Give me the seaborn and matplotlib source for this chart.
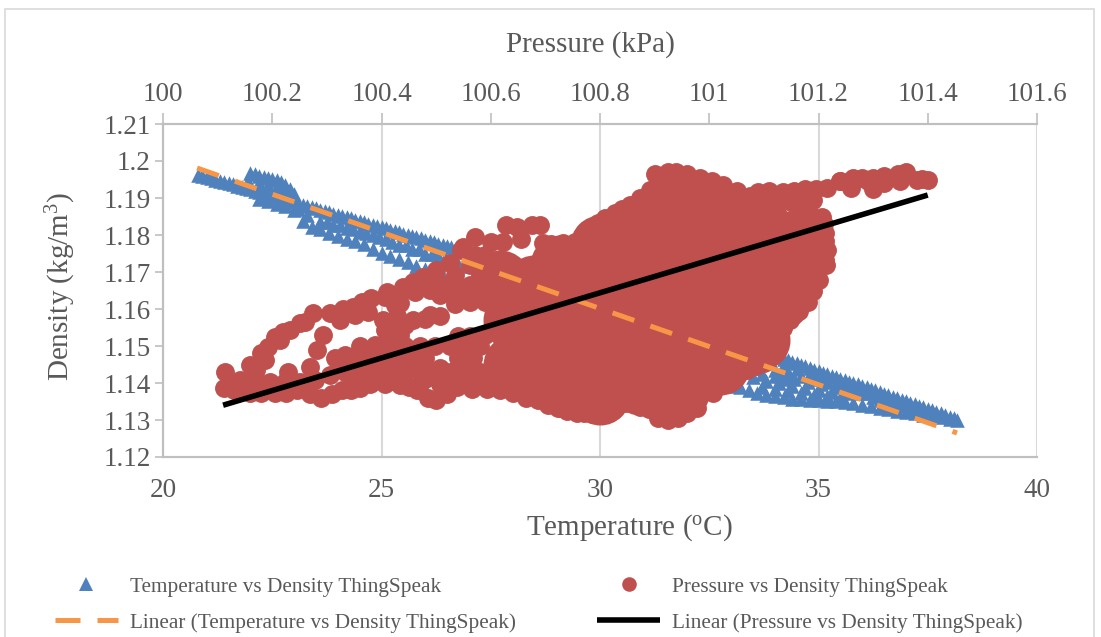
import matplotlib
matplotlib.use("Agg")
import matplotlib.pyplot as plt
from matplotlib.lines import Line2D
from matplotlib.patches import Rectangle
import seaborn as sns

# ---- data ----
temp_row_upper = [20.8,21.0,21.2,21.4,21.6,21.8,22.0,22.2,22.4,22.6,22.8,23.0,23.2,23.4,23.6,23.8,24.0,24.2,24.4,24.6,24.8,25.0,25.2,25.4,25.6,25.8,26.0,26.2,26.4,26.6,26.8,27.0,
                  20.9,21.1,21.3,21.5,21.7,21.9,22.1,22.3,22.5,22.7,22.9,23.1,23.3,23.5,23.7,23.9,24.1,24.3,24.5,24.7,24.9,25.1,25.3,25.5,25.7,25.9,26.1,26.3,26.5,26.7,26.9]
dens_row_upper = [1.1963,1.1957,1.1950,1.1943,1.1937,1.1930,1.1923,1.1916,1.1909,1.1902,1.1896,1.1889,1.1882,1.1875,1.1868,1.1862,1.1855,1.1848,1.1841,1.1835,1.1828,1.1821,1.1814,1.1807,1.1801,1.1794,1.1787,1.1780,1.1773,1.1767,1.1760,1.1753,
                  1.1960,1.1953,1.1947,1.1940,1.1933,1.1926,1.1920,1.1913,1.1906,1.1899,1.1892,1.1886,1.1879,1.1872,1.1865,1.1858,1.1852,1.1845,1.1838,1.1831,1.1824,1.1818,1.1811,1.1804,1.1797,1.1791,1.1784,1.1777,1.1770,1.1763,1.1756]
temp_row_lower = [22.2,22.4,22.6,22.8,23.0,23.2,23.4,23.6,23.8,24.0,24.2,24.4,24.6,24.8,25.0,25.2,25.4,25.6,25.8,26.0,26.2,26.4,26.6,26.8,27.0]
dens_row_lower = [1.1897,1.1891,1.1885,1.1878,1.1867,1.1838,1.1822,1.1815,1.1805,1.1798,1.1790,1.1783,1.1775,1.1763,1.1752,1.1744,1.1735,1.1726,1.1716,1.1707,1.1698,1.1690,1.1680,1.1673,1.1665]
temp_row_mid = [23.6,23.9,24.2,24.5,24.8,25.1,25.4,25.7,26.0,26.3,26.6,26.9,23.75,24.05,24.35,24.65,24.95,25.25,25.55,25.85,26.15,26.45,26.75,23.1,23.3]
dens_row_mid = [1.1835,1.1826,1.1818,1.1808,1.1800,1.1788,1.1772,1.1762,1.1750,1.1742,1.1726,1.1715,1.1835,1.1826,1.1816,1.1806,1.1795,1.1782,1.1772,1.1762,1.1750,1.1738,1.1722,1.1870,1.1855]
temp_bump = [22.0,22.2,22.4,22.6,22.8,23.0,21.95,22.2,22.4,22.6,22.8,22.1,22.3,22.5,22.7,22.9]
dens_bump = [1.1968,1.1960,1.1955,1.1950,1.1935,1.1910,1.1945,1.1940,1.1935,1.1930,1.1915,1.1964,1.1958,1.1952,1.1943,1.1925]
temp_tail_upper = [33.8,34.0,34.2,34.4,34.6,34.8,35.0,35.2,35.4,35.6,35.8,36.0,36.2,36.4,36.6,36.8,37.0,37.2,37.4,37.6,37.8,38.0,38.17,
                   33.9,34.1,34.3,34.5,34.7,34.9,35.1,35.3,35.5,35.7,35.9,36.1,36.3,36.5,36.7,36.9,37.1,37.3,37.5,37.7,37.9,38.1]
dens_tail_upper = [1.1481,1.1473,1.1465,1.1457,1.1449,1.1440,1.1432,1.1424,1.1416,1.1408,1.1400,1.1392,1.1384,1.1375,1.1367,1.1359,1.1351,1.1343,1.1335,1.1326,1.1318,1.1309,1.1300,
                   1.1477,1.1469,1.1461,1.1453,1.1445,1.1436,1.1428,1.1420,1.1412,1.1404,1.1396,1.1388,1.1380,1.1371,1.1363,1.1355,1.1347,1.1339,1.1330,1.1322,1.1314,1.1305]
temp_tail_lower = [33.0,33.2,33.4,33.6,33.8,34.0,34.2,34.4,34.6,34.8,35.0,35.2,35.4,35.6,35.8,36.0,36.2,36.4,36.6,36.8,37.0,37.2,37.4,37.6,37.8,38.0]
dens_tail_lower = [1.1392,1.1388,1.1380,1.1372,1.1367,1.1364,1.1361,1.1358,1.1356,1.1354,1.1353,1.1352,1.1351,1.1350,1.1345,1.1341,1.1337,1.1333,1.1329,1.1325,1.1321,1.1318,1.1314,1.1311,1.1307,1.1303]
temp_tail_mid = [34.0,34.3,34.6,34.9,35.2,35.5,35.8,36.1,33.8,34.1,34.4,34.7,35.0,35.3,35.6,33.5,33.5,36.4,36.8,37.2,
                 34.15,34.45,34.75,35.05,35.35,35.65,35.95,36.25,36.6,37.0,
                 33.9,34.2,34.5,34.8,35.1,33.7,34.0,34.3,33.7,34.0,34.3,34.6,34.9,35.2,35.5]
dens_tail_mid = [1.1436,1.1430,1.1420,1.1412,1.1403,1.1393,1.1382,1.1372,1.1405,1.1400,1.1393,1.1387,1.1382,1.1377,1.1372,1.1440,1.1415,1.1355,1.1342,1.1330,
                 1.1418,1.1410,1.1403,1.1396,1.1388,1.1380,1.1372,1.1362,1.1350,1.1337,
                 1.1455,1.1450,1.1437,1.1425,1.1420,1.1425,1.1420,1.1412,1.1390,1.1385,1.1378,1.1372,1.1368,1.1365,1.1360]

press_outline = [101.40,101.36,101.264,101.216,101.135,100.90,100.94,100.983,101.026,101.075,101.11,
                 101.207,101.212,101.216,101.212,101.20,101.18,101.148,101.125,101.10,101.07,101.007,100.978,100.943,100.906,100.874,100.846,100.80,100.77,100.727,
                 100.892,100.855,100.828,100.797,100.776,100.77,100.733,100.696,100.69,100.676,100.648,100.628,100.623,100.571,100.55,100.526,100.476,100.44,100.38,100.348,100.306,100.275,100.25,100.22,100.205,100.18,100.16,100.114,100.112,
                 100.16,100.205,100.245,100.29,100.328,100.36,100.397,100.434,100.465,100.485,100.50,100.538,100.593,100.641,100.687,100.723,100.758,
                 100.41,100.458,100.50,100.545,100.33,100.365,
                 100.13,100.18,100.225,100.27,100.31,100.345,100.38,100.415,100.45,100.52,100.565,100.617,100.665,100.705,100.74,
                 101.04,100.96,100.925,100.825,100.785,100.89,
                 101.19,101.165,101.135,101.112,101.085,101.212,101.21,101.214,
                 100.874,100.84,100.81,100.785,100.755,100.71,100.655,100.60,100.925,100.96,101.005,101.05,101.09,101.0]
dens_outline = [1.1949,1.1970,1.1954,1.1927,1.1916,1.1965,1.1970,1.1954,1.1935,1.1905,1.1920,
                1.1850,1.1805,1.1760,1.1732,1.1678,1.1620,1.1570,1.1524,1.1454,1.1435,1.1373,1.1332,1.1305,1.1305,1.1335,1.1346,1.1313,1.1319,1.1332,
                1.1922,1.1881,1.1859,1.1832,1.1800,1.1790,1.1778,1.1778,1.1827,1.1827,1.1822,1.1827,1.1780,1.1795,1.1768,1.1724,1.1686,1.1660,1.1630,1.1605,1.1589,1.1589,1.1562,1.1538,1.1524,1.1480,1.1449,1.1430,1.1386,
                1.1373,1.1373,1.1380,1.1360,1.1380,1.1386,1.1416,1.1395,1.1380,1.1360,1.1354,1.1390,1.1384,1.1373,1.1354,1.1332,1.1319,
                1.1645,1.1673,1.1705,1.1760,1.1600,1.1620,
                1.1380,1.1373,1.1373,1.1370,1.1370,1.1380,1.1400,1.1405,1.1390,1.1370,1.1385,1.1380,1.1360,1.1340,1.1325,
                1.1405,1.1320,1.1300,1.1330,1.1315,1.1330,
                1.1650,1.1595,1.1550,1.1490,1.1445,1.1785,1.1830,1.1720,
                1.1900,1.1870,1.1845,1.1820,1.1780,1.1775,1.1790,1.1780,1.1970,1.1965,1.1945,1.1920,1.1915,1.1900]
press_tail = [101.30,101.26,101.35,101.38,101.32,101.29,101.24,101.19,101.16,101.15,101.17,101.12,101.19,101.18,
              101.39,101.345,101.32,101.30,101.28,101.24,101.195,101.175,101.155]
dens_tail = [1.1925,1.1928,1.1945,1.1950,1.1940,1.1945,1.1945,1.1915,1.1915,1.1890,1.1885,1.1885,1.1895,1.1870,
             1.1952,1.1965,1.1960,1.1955,1.1955,1.1945,1.1925,1.1925,1.1920]
press_bands = [100.141,100.168,100.196,100.223,100.251,100.278,100.306,100.333,100.357,100.13,100.17,100.187,100.168,100.229,
               100.293,100.282,100.269,100.233,100.26,100.192,100.214,
               100.324,100.352,100.375,100.403,100.429,100.407,100.434,100.462,100.489,100.425,100.434,100.48,100.507,100.535,100.562,100.59,100.458,100.489,
               100.507,100.535,100.562,100.59,100.535,100.562,100.516,100.489,100.59,100.562,100.59,100.571,100.60,
               100.333,100.361,100.388,100.416,100.434,100.407,100.425,100.443,
               100.315,100.342,100.37,100.397,100.425,100.452,100.48,100.54,100.568,
               100.361,100.388,100.416,100.443,100.471,100.498,100.526,100.553,100.581,
               100.54,100.562,100.59,
               100.333,100.361,100.388,100.416,100.443,100.471,100.498,100.526,100.553,100.581,
               100.379,100.407,100.443,100.471,100.507,100.535,100.562,100.59,100.507,
               100.35,100.425,100.40,100.48]
dens_bands = [1.1408,1.1414,1.1403,1.1403,1.1403,1.1408,1.1422,1.1435,1.1457,1.1395,1.1435,1.1462,1.1440,1.1430,
              1.1530,1.1490,1.1443,1.1543,1.1565,1.1497,1.1516,
              1.1570,1.1584,1.1592,1.1570,1.1581,1.1632,1.1643,1.1646,1.1651,1.1611,1.1616,1.1573,1.1581,1.1614,1.1619,1.1619,1.1570,1.1584,
              1.1638,1.1651,1.1665,1.1692,1.1692,1.1719,1.1665,1.1665,1.1719,1.1638,1.1746,1.1746,1.1665,
              1.1476,1.1489,1.1503,1.1516,1.1530,1.1543,1.1549,1.1557,
              1.1468,1.1468,1.1468,1.1468,1.1468,1.1468,1.1468,1.1468,1.1468,
              1.1500,1.1500,1.1500,1.1500,1.1500,1.1500,1.1500,1.1500,1.1500,
              1.1527,1.1527,1.1530,
              1.1430,1.1430,1.1430,1.1430,1.1430,1.1430,1.1430,1.1430,1.1430,1.1430,
              1.1397,1.1397,1.1397,1.1397,1.1397,1.1397,1.1397,1.1397,1.1440,
              1.1400,1.1415,1.1415,1.1410]
press_core = [100.727,100.727,100.727,100.727,
              100.80,100.80,100.80,100.80,100.80,
              100.874,100.874,100.874,100.874,100.874,
              100.947,100.947,100.947,100.947,100.947,100.947,
              101.02,101.02,101.02,101.02,101.02,
              101.093,101.093,101.093,101.093,
              101.157,101.157,101.13,
              100.617,100.64,100.64,100.68,100.68,100.68]
dens_core = [1.1719,1.1611,1.1503,1.1395,
             1.1773,1.1665,1.1557,1.1449,1.1368,
             1.1827,1.1719,1.1611,1.1503,1.1395,
             1.1895,1.1786,1.1678,1.1570,1.1462,1.1381,
             1.1854,1.1759,1.1651,1.1543,1.1449,
             1.1827,1.1719,1.1611,1.1516,
             1.1786,1.1692,1.1624,
             1.1678,1.1570,1.1449,1.1665,1.1543,1.1422]

temp_fit = [20.78, 38.17]
dens_temp_fit = [1.1981, 1.1265]
press_fit = [100.11, 101.40]
dens_press_fit = [1.134, 1.1908]

temp_ticks = [20, 25, 30, 35, 40]
press_ticks = [100, 100.2, 100.4, 100.6, 100.8, 101, 101.2, 101.4, 101.6]
press_labels = ["100", "100.2", "100.4", "100.6", "100.8", "101", "101.2", "101.4", "101.6"]
dens_ticks = [1.12, 1.13, 1.14, 1.15, 1.16, 1.17, 1.18, 1.19, 1.2, 1.21]
dens_labels = ["1.12", "1.13", "1.14", "1.15", "1.16", "1.17", "1.18", "1.19", "1.2", "1.21"]
legend_labels = ["Temperature vs Density ThingSpeak", "Linear (Temperature vs Density ThingSpeak)",
                 "Pressure vs Density ThingSpeak", "Linear (Pressure vs Density ThingSpeak)"]

# ---- style ----
sns.set_theme(style="white")
plt.rcParams["font.family"] = ["Liberation Serif", "DejaVu Serif"]
plt.rcParams["mathtext.default"] = "regular"
BLUE, RED, ORANGE = "#4F81BD", "#C0504D", "#F79646"
TXT, AXC, GRID = "#595959", "#BFBFBF", "#D9D9D9"
W, H = 1101, 637

fig = plt.figure(figsize=(W / 100, H / 100), dpi=100, facecolor="white")
fig.add_artist(Rectangle((4.5 / W, -0.02), (1094 - 4.5) / W, 1.02 - 8.5 / H, transform=fig.transFigure,
                         fill=False, edgecolor=GRID, linewidth=1.2))
ax = fig.add_axes([163 / W, 1 - 457 / H, (1037 - 163) / W, (457 - 124) / H])
ax_p = ax.twiny()
ax_t2 = ax.twiny()
ax_p2 = ax.twiny()

tri_s, dot_s = 110, 185
for xs, ys in [(temp_row_upper, dens_row_upper), (temp_row_lower, dens_row_lower), (temp_row_mid, dens_row_mid),
               (temp_bump, dens_bump), (temp_tail_upper, dens_tail_upper), (temp_tail_lower, dens_tail_lower),
               (temp_tail_mid, dens_tail_mid)]:
    sns.scatterplot(x=xs, y=ys, ax=ax, marker="^", s=tri_s, color=BLUE, linewidth=0, legend=False, clip_on=False)
for xs, ys in [(press_outline, dens_outline), (press_tail, dens_tail), (press_bands, dens_bands)]:
    sns.scatterplot(x=xs, y=ys, ax=ax_p, marker="o", s=dot_s, color=RED, linewidth=0, legend=False)
sns.scatterplot(x=press_core, y=dens_core, ax=ax_p, marker="o", s=1866, color=RED, linewidth=0, legend=False)
sns.lineplot(x=temp_fit, y=dens_temp_fit, ax=ax_t2, color=ORANGE, linewidth=3.6, dashes=(4.6, 3.4), legend=False, errorbar=None, dash_capstyle="butt")
sns.lineplot(x=press_fit, y=dens_press_fit, ax=ax_p2, color="black", linewidth=4, legend=False, errorbar=None, solid_capstyle="butt")

ax.set_xlim(20, 40)
ax.set_ylim(1.12, 1.21)
ax_t2.set_xlim(20, 40)
ax_p.set_xlim(100, 101.6)
ax_p2.set_xlim(100, 101.6)
for a in (ax_p, ax_t2, ax_p2):
    a.set_ylim(1.12, 1.21)

for a in (ax_t2, ax_p2):
    a.axis("off")

TICK_FS = 19.5
ax.set_xticks(temp_ticks)
ax.set_yticks(dens_ticks, labels=dens_labels)
ax.grid(axis="x", color=GRID, linewidth=1.5)
ax.grid(axis="y", visible=False)
ax.set_axisbelow(True)
ax.tick_params(axis="x", length=0, pad=15, labelsize=TICK_FS, labelcolor=TXT)
ax.tick_params(axis="y", length=6, width=1.2, color=AXC, pad=3, labelsize=TICK_FS, labelcolor=TXT, left=True)
ax_p.set_xticks(press_ticks, labels=press_labels)
ax_p.tick_params(axis="x", length=8, width=1.2, color=AXC, pad=4, labelsize=TICK_FS, labelcolor=TXT, top=True)
for a in (ax, ax_p):
    for side, sp in a.spines.items():
        sp.set_color(AXC)
        sp.set_linewidth(1.5)
        sp.set_visible(side != "right")

ax.set_xlabel("Temperature ($^{o}$C)", fontsize=21, color=TXT, va="center")
ax.xaxis.set_label_coords((629 - 163) / 874, -(528 - 457) / 333)
ax.set_ylabel("Density (kg/m$^{3}$)", fontsize=21, color=TXT, va="center")
ax.yaxis.set_label_coords((61 - 163) / 874, (457 - 286) / 333)
ax_p.set_xlabel("Pressure (kPa)", fontsize=21, color=TXT, va="center")
ax_p.xaxis.set_label_coords((590 - 163) / 874, 1 + (124 - 45) / 333)

handles = [
    Line2D([], [], linestyle="none", marker="^", markersize=10, color=BLUE, markeredgewidth=0),
    Line2D([], [], color=ORANGE, linewidth=3.6, dashes=(5, 3.4), dash_capstyle="butt"),
    Line2D([], [], linestyle="none", marker="o", markersize=10.5, color=RED, markeredgewidth=0),
    Line2D([], [], color="black", linewidth=4, solid_capstyle="butt"),
]
leg = fig.legend(handles, legend_labels, ncol=2, loc="upper left", bbox_to_anchor=(55 / W, 1 - 577 / H),
                 frameon=False, fontsize=15.3, labelcolor=TXT, handlelength=2.96, handletextpad=0.56,
                 columnspacing=3.84, labelspacing=0.75, borderpad=0, borderaxespad=0)
fig.savefig("out.png", dpi=100)
